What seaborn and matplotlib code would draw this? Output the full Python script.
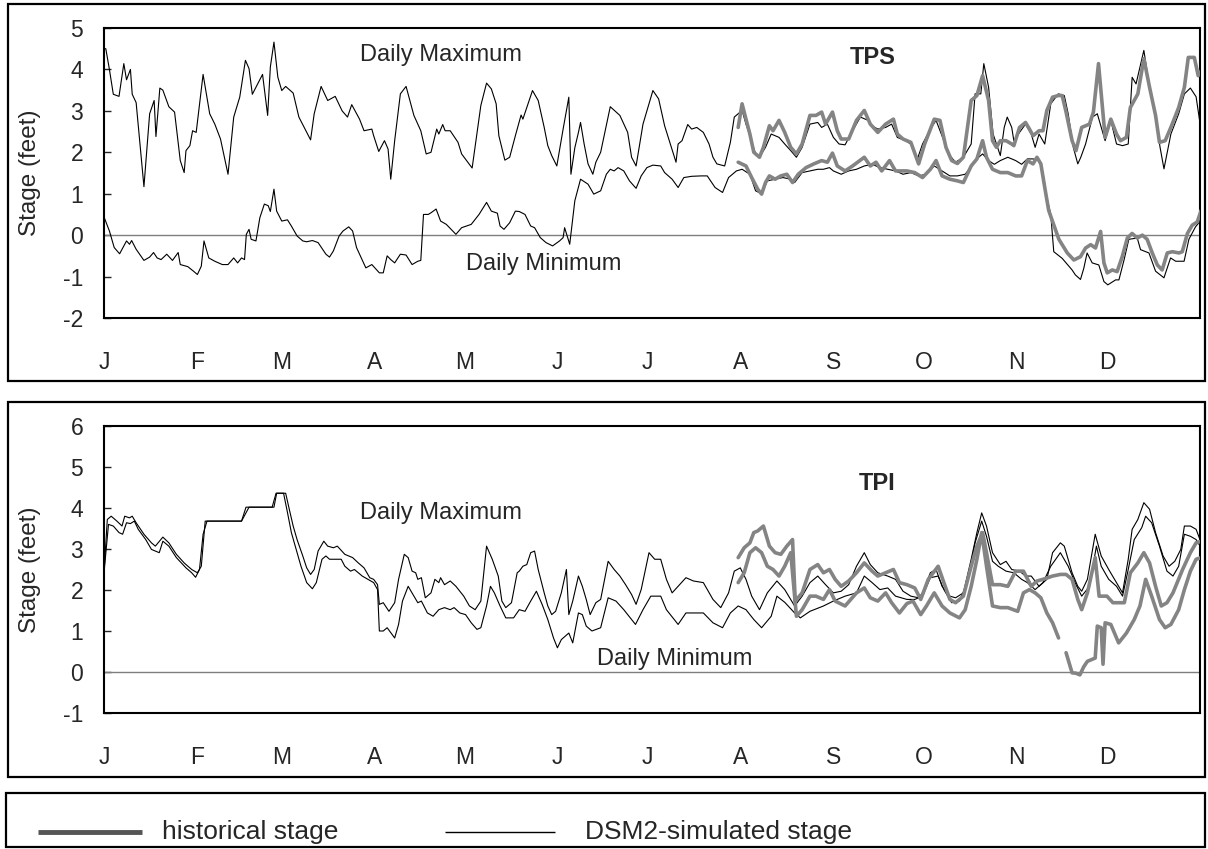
import matplotlib
matplotlib.use("Agg")
import matplotlib.pyplot as plt
import seaborn as sns
import pandas as pd
from matplotlib.patches import Rectangle
from matplotlib.lines import Line2D

# ---------------- data (day of year, stage in feet) ----------------
month_days = [0, 31, 59, 90, 120, 151, 181, 212, 243, 273, 304, 334]
month_labels = ["J", "F", "M", "A", "M", "J", "J", "A", "S", "O", "N", "D"]

tps_sim_max = [
    (0, 4.5), (0.6, 4.5), (1.8, 4.0), (3.1, 3.4), (4.3, 3.37), (5.0, 3.35), (6.6, 4.14), (7.5, 3.75),
    (8.8, 4.0), (9.4, 3.4), (10.7, 3.2), (13.3, 1.17), (15.2, 2.93), (16.7, 3.25), (17.3, 2.38),
    (18.6, 3.55), (19.6, 3.5), (21.6, 3.1), (23.5, 2.97), (25.4, 1.8), (26.7, 1.51), (27.3, 2.04),
    (28.6, 2.16), (29.5, 2.52), (30.7, 2.48), (33.0, 3.88), (35.2, 2.93), (36.9, 2.68), (38.8, 2.32),
    (41.3, 1.47), (43.2, 2.85), (45.2, 3.33), (47.1, 4.22), (48.3, 4.02), (49.4, 3.4), (52.8, 3.88),
    (54.5, 2.89), (55.4, 4.06), (56.6, 4.66), (57.9, 3.81), (59.2, 3.49), (60.5, 3.59), (63.0, 3.43),
    (64.9, 2.85), (68.8, 2.3), (70.0, 2.93), (72.3, 3.59), (74.5, 3.25), (77.0, 3.35), (79.3, 3.0),
    (81.1, 2.85), (82.5, 3.15), (85.1, 2.8), (86.6, 2.52), (89.2, 2.56), (89.8, 2.4), (91.5, 2.02),
    (93.4, 2.28), (94.6, 2.08), (95.5, 1.35), (96.8, 2.28), (98.7, 3.41), (100.6, 3.59), (103.2, 2.89),
    (105.5, 2.52), (107.3, 1.96), (108.9, 2.0), (110.8, 2.56), (111.5, 2.44), (112.8, 2.67),
    (113.6, 2.52), (115.3, 2.52), (117.9, 2.24), (119.1, 1.96), (122.6, 1.62), (125.5, 3.13),
    (127.4, 3.67), (129.0, 3.53), (130.6, 3.17), (131.5, 2.4), (133.5, 1.81), (135.1, 1.88),
    (137.0, 2.4), (138.9, 2.9), (139.5, 2.8), (140.8, 3.08), (142.7, 3.49), (144.6, 3.25),
    (146.6, 2.6), (147.8, 2.16), (149.1, 1.92), (150.8, 1.67), (152.9, 2.56), (154.8, 3.33),
    (155.5, 1.47), (156.8, 2.11), (158.0, 2.48), (158.7, 2.72), (159.9, 2.2), (161.2, 1.72),
    (162.8, 1.47), (163.8, 1.76), (165.4, 2.0), (168.6, 3.1), (171.8, 2.89), (174.4, 2.48),
    (175.7, 1.88), (177.2, 1.67), (179.5, 2.68), (182.8, 3.49), (184.7, 3.29), (186.7, 2.64),
    (188.6, 2.2), (190.5, 1.76), (191.2, 2.2), (192.5, 2.28), (194.4, 2.67), (195.7, 2.56),
    (197.4, 2.6), (199.6, 2.48), (201.5, 2.2), (202.8, 1.88), (204.1, 1.72), (206.7, 1.67),
    (208.6, 2.24), (209.9, 2.85), (212.5, 3.01), (213.8, 2.68), (215.1, 2.4), (217.0, 1.96),
    (218.3, 1.88), (220.3, 2.12), (222.2, 2.44), (224.8, 2.36), (226.7, 2.2), (228.7, 2.04),
    (230.6, 1.88), (232.5, 2.12), (235.1, 2.68), (237.7, 2.72), (239.0, 2.6), (240.9, 2.68),
    (242.9, 2.36), (244.8, 2.2), (246.8, 2.18), (249.3, 2.52), (251.9, 2.85), (254.5, 2.77),
    (255.8, 2.64), (257.7, 2.56), (260.3, 2.6), (262.3, 2.68), (264.2, 2.36), (266.8, 2.28),
    (268.7, 2.2), (270.7, 1.8), (272.6, 2.2), (275.2, 2.56), (277.1, 2.77), (279.7, 2.28),
    (281.7, 1.92), (283.6, 1.76), (286.2, 1.88), (288.8, 2.2), (290.1, 3.41), (292.0, 3.41),
    (293.0, 4.14), (294.6, 3.57), (296.1, 2.44), (298.5, 1.92), (299.8, 2.6), (300.8, 2.85),
    (302.3, 2.6), (303.0, 2.28), (304.9, 2.48), (306.9, 2.68), (308.8, 2.44), (310.1, 2.12),
    (311.4, 2.44), (313.3, 2.2), (315.3, 3.17), (317.8, 3.41), (319.8, 3.37), (321.1, 2.93),
    (322.8, 2.12), (324.3, 1.72), (325.3, 1.88), (326.9, 2.2), (329.2, 2.85), (330.8, 2.93),
    (333.4, 2.28), (335.3, 2.77), (337.2, 2.2), (339.2, 2.16), (341.1, 2.2), (342.4, 3.81),
    (343.7, 3.65), (346.3, 4.46), (348.2, 3.57), (350.2, 2.85), (351.7, 2.12), (353.0, 1.6),
    (355.3, 2.44), (357.9, 2.93), (359.8, 3.41), (361.8, 3.55), (363.7, 3.34), (365.0, 2.7),
]

tps_sim_min = [
    (0, 0.44), (1.8, 0.1), (3.4, -0.3), (5.2, -0.45), (7.5, -0.14), (8.5, -0.22), (9.2, -0.13),
    (10.7, -0.34), (13.3, -0.61), (15.2, -0.53), (16.5, -0.42), (17.7, -0.55), (19.0, -0.59),
    (20.9, -0.46), (22.8, -0.61), (24.7, -0.42), (25.4, -0.71), (27.9, -0.76), (29.8, -0.87),
    (31.1, -0.95), (32.4, -0.75), (33.3, -0.14), (34.9, -0.55), (36.9, -0.63), (39.4, -0.71),
    (41.3, -0.71), (43.2, -0.55), (44.5, -0.67), (45.8, -0.55), (46.8, -0.59), (47.4, 0.02),
    (48.3, 0.14), (49.0, -0.1), (50.6, -0.14), (51.9, 0.42), (53.4, 0.75), (54.7, 0.71), (55.4, 0.57),
    (56.6, 1.11), (57.5, 0.58), (59.2, 0.34), (61.1, 0.37), (62.4, 0.22), (64.3, -0.02), (66.2, -0.14),
    (67.5, -0.16), (69.4, -0.13), (71.3, -0.18), (73.9, -0.46), (75.1, -0.53), (76.4, -0.38),
    (78.3, -0.02), (79.6, 0.1), (81.5, 0.2), (82.8, 0.1), (84.1, -0.3), (87.2, -0.79), (89.2, -0.71),
    (91.7, -0.91), (93.0, -0.91), (94.3, -0.5), (95.5, -0.59), (96.8, -0.67), (98.7, -0.46),
    (100.6, -0.48), (102.6, -0.71), (104.5, -0.63), (105.5, -0.61), (106.4, 0.5), (108.0, 0.5),
    (108.9, 0.54), (110.6, 0.63), (112.1, 0.34), (114.0, 0.26), (117.2, 0.02), (119.1, 0.18),
    (122.3, 0.26), (124.9, 0.5), (127.4, 0.79), (129.0, 0.58), (131.0, 0.53), (131.9, 0.22),
    (133.2, 0.14), (135.1, 0.3), (137.0, 0.58), (138.3, 0.57), (140.2, 0.5), (142.1, 0.22),
    (143.4, 0.18), (145.3, -0.06), (147.2, -0.18), (149.4, -0.26), (151.7, -0.14), (152.9, -0.06),
    (153.4, 0.18), (155.1, -0.22), (156.8, 0.83), (158.7, 1.35), (160.4, 1.27), (161.2, 1.23),
    (163.1, 0.99), (165.4, 1.07), (167.3, 1.47), (168.6, 1.59), (169.9, 1.55), (171.2, 1.63),
    (173.1, 1.55), (175.0, 1.31), (177.2, 1.13), (178.9, 1.43), (180.8, 1.63), (182.8, 1.69),
    (185.4, 1.67), (186.7, 1.51), (189.2, 1.35), (191.2, 1.15), (193.1, 1.39), (195.7, 1.42),
    (198.9, 1.43), (200.9, 1.43), (203.5, 1.15), (206.0, 1.03), (208.0, 1.39), (210.6, 1.55),
    (212.5, 1.59), (215.1, 1.47), (217.0, 1.07), (219.0, 1.0), (220.9, 1.31), (223.5, 1.35),
    (226.1, 1.39), (228.7, 1.35), (230.0, 1.27), (232.5, 1.51), (235.1, 1.55), (237.7, 1.59),
    (239.6, 1.59), (241.6, 1.63), (242.9, 1.55), (245.5, 1.47), (248.0, 1.55), (250.6, 1.59),
    (253.2, 1.67), (255.8, 1.71), (258.4, 1.63), (261.0, 1.59), (263.6, 1.55), (266.1, 1.47),
    (268.7, 1.51), (271.3, 1.43), (273.9, 1.47), (276.5, 1.67), (279.1, 1.55), (281.7, 1.43),
    (284.2, 1.43), (286.8, 1.47), (289.4, 1.71), (291.3, 1.88), (292.6, 1.96), (294.6, 1.8),
    (296.5, 1.71), (298.5, 1.8), (301.0, 1.88), (303.6, 1.8), (305.6, 1.71), (307.5, 1.84),
    (309.4, 1.84), (311.4, 1.8), (312.7, 1.51), (314.0, 0.9), (315.3, 0.5), (316.3, -0.4),
    (319.1, -0.56), (322.4, -0.84), (323.5, -0.96), (325.2, -1.07), (326.3, -0.8), (327.4, -0.43),
    (329.1, -0.67), (331.3, -0.72), (333.0, -1.12), (334.3, -1.2), (336.9, -1.08), (338.0, -1.08),
    (339.7, -0.6), (341.3, -0.1), (344.1, -0.07), (345.2, -0.35), (348.0, -0.43), (350.2, -0.87),
    (353.0, -1.03), (355.2, -0.55), (356.9, -0.63), (359.7, -0.63), (361.3, -0.1), (363.5, 0.2),
    (365.2, 0.35),
]

tps_hist_max = [
    (211.2, 2.6), (212.5, 3.17), (213.8, 2.8), (215.1, 2.44), (216.4, 2.0), (218.3, 1.88),
    (219.6, 2.12), (221.6, 2.64), (222.8, 2.52), (224.8, 2.77), (226.7, 2.48), (228.7, 2.12),
    (230.6, 1.96), (232.5, 2.2), (235.1, 2.89), (237.1, 2.89), (239.0, 2.97), (240.3, 2.68),
    (242.6, 2.97), (244.2, 2.52), (245.5, 2.32), (248.0, 2.32), (250.6, 2.77), (253.2, 3.01),
    (255.2, 2.68), (257.7, 2.48), (260.3, 2.68), (262.9, 2.8), (264.2, 2.44), (266.1, 2.32),
    (268.7, 2.24), (271.3, 1.72), (273.3, 2.2), (276.5, 2.8), (278.4, 2.77), (280.4, 2.12),
    (282.3, 1.8), (284.2, 1.73), (286.2, 1.88), (288.8, 3.25), (290.7, 3.37), (292.6, 3.85),
    (294.6, 3.25), (295.9, 2.28), (297.2, 2.12), (298.5, 2.28), (300.4, 2.28), (302.3, 2.2),
    (303.0, 2.16), (304.9, 2.6), (306.9, 2.72), (308.2, 2.56), (309.4, 2.4), (311.4, 2.52),
    (312.7, 2.52), (314.0, 3.01), (315.9, 3.33), (317.8, 3.37), (319.1, 3.37), (320.4, 2.97),
    (322.4, 2.28), (323.7, 2.04), (325.6, 2.6), (328.2, 2.68), (329.5, 2.97), (331.2, 4.14),
    (332.7, 2.93), (333.4, 2.36), (335.3, 2.8), (337.2, 2.44), (338.5, 2.28), (340.5, 2.36),
    (341.8, 3.08), (344.3, 3.41), (346.3, 4.26), (348.2, 3.57), (350.2, 2.89), (351.5, 2.24),
    (353.4, 2.28), (355.3, 2.6), (357.9, 3.08), (359.8, 3.57), (361.1, 4.29), (363.1, 4.29),
    (364.4, 3.85), (365.4, 3.97),
]

tps_hist_min = [
    (211.2, 1.76), (213.8, 1.67), (215.7, 1.39), (217.7, 1.11), (219.0, 0.99), (220.3, 1.27),
    (221.6, 1.43), (223.5, 1.35), (225.4, 1.43), (227.4, 1.47), (229.3, 1.27), (231.2, 1.47),
    (233.8, 1.63), (236.4, 1.72), (239.0, 1.8), (240.9, 1.76), (242.6, 1.98), (244.2, 1.67),
    (246.8, 1.55), (249.3, 1.67), (253.2, 1.88), (255.2, 1.67), (257.1, 1.76), (259.0, 1.55),
    (261.6, 1.8), (263.6, 1.55), (267.4, 1.55), (270.0, 1.51), (272.6, 1.39), (275.2, 1.59),
    (277.1, 1.8), (279.1, 1.43), (281.7, 1.35), (284.2, 1.31), (286.2, 1.27), (288.8, 1.67),
    (290.7, 1.84), (292.6, 2.28), (293.9, 1.88), (295.9, 1.59), (298.5, 1.51), (301.0, 1.51),
    (303.6, 1.43), (305.6, 1.43), (307.5, 1.8), (309.4, 1.72), (310.7, 1.88), (312.0, 1.72),
    (313.3, 1.15), (314.6, 0.6), (315.8, 0.35), (318.0, -0.1), (320.8, -0.43), (323.0, -0.6),
    (325.2, -0.52), (326.9, -0.31), (328.6, -0.23), (330.2, -0.31), (331.9, 0.09), (333.0, -0.67),
    (334.1, -0.91), (335.8, -0.84), (337.4, -0.88), (339.1, -0.52), (340.8, -0.07), (342.4, 0.04),
    (344.1, -0.07), (345.8, 0.0), (347.4, -0.1), (349.1, -0.43), (350.8, -0.72), (352.4, -0.84),
    (354.1, -0.43), (355.8, -0.4), (358.0, -0.43), (359.1, -0.4), (360.8, 0.04), (362.4, 0.24),
    (364.1, 0.32), (365.4, 0.6),
]

tpi_sim_max = [
    (0, 2.42), (1.1, 3.72), (2.4, 3.8), (4.3, 3.68), (6.0, 3.56), (6.9, 3.8), (8.5, 3.76), (9.4, 3.8),
    (10.7, 3.64), (13.3, 3.36), (15.8, 3.15), (17.1, 3.07), (19.6, 3.29), (21.6, 3.15), (24.1, 2.87),
    (26.7, 2.66), (29.2, 2.5), (31.1, 2.42), (32.4, 2.58), (33.7, 3.68), (45.8, 3.68), (47.3, 4.02),
    (56.0, 4.02), (57.3, 4.36), (60.5, 4.36), (61.7, 3.97), (63.0, 3.56), (64.3, 3.23), (66.2, 2.83),
    (67.5, 2.54), (68.8, 2.38), (70.0, 2.5), (71.3, 2.95), (73.2, 3.19), (74.5, 3.07), (76.4, 3.03),
    (77.7, 3.07), (80.2, 2.87), (81.5, 2.83), (82.8, 2.79), (84.7, 2.66), (86.6, 2.54), (88.5, 2.3),
    (89.8, 2.26), (91.1, 2.13), (91.7, 1.65), (93.0, 1.69), (94.9, 1.48), (96.8, 1.69), (98.1, 2.26),
    (100.0, 2.87), (101.3, 2.79), (102.6, 2.46), (103.8, 2.42), (104.5, 2.26), (105.7, 2.3),
    (107.0, 1.81), (108.9, 1.93), (110.2, 2.26), (111.5, 2.18), (112.1, 2.3), (113.4, 2.13),
    (115.3, 2.22), (117.2, 2.09), (119.8, 1.85), (121.7, 1.61), (123.6, 1.52), (125.5, 1.73),
    (127.4, 3.07), (129.3, 2.75), (131.3, 2.34), (132.5, 1.73), (133.8, 1.57), (135.7, 1.69),
    (137.6, 2.42), (138.3, 2.46), (139.5, 2.58), (140.8, 2.62), (142.1, 2.91), (143.4, 2.95),
    (144.6, 2.5), (146.6, 1.93), (147.8, 1.61), (149.1, 1.4), (150.4, 1.48), (152.3, 1.93),
    (154.0, 2.5), (154.8, 1.4), (156.1, 1.73), (158.0, 2.34), (159.3, 2.09), (160.6, 1.77),
    (161.9, 1.4), (163.8, 1.69), (165.4, 1.77), (167.9, 2.7), (169.9, 2.5), (171.8, 2.34),
    (173.7, 2.13), (175.7, 1.89), (177.2, 1.65), (178.9, 2.01), (181.5, 2.91), (183.4, 2.75),
    (185.4, 2.75), (187.3, 2.26), (189.2, 1.93), (191.2, 2.09), (193.8, 2.3), (196.3, 2.22),
    (199.6, 2.18), (202.8, 1.77), (205.4, 1.57), (208.0, 1.93), (209.9, 2.46), (211.9, 2.54),
    (213.8, 2.26), (215.7, 1.85), (218.3, 1.52), (220.9, 1.93), (224.1, 2.22), (226.7, 2.01),
    (230.0, 1.61), (232.5, 1.85), (235.1, 2.18), (237.7, 2.34), (240.3, 2.13), (242.9, 1.93),
    (245.5, 1.97), (248.0, 2.13), (250.6, 2.58), (253.2, 2.91), (255.2, 2.62), (257.7, 2.42),
    (261.0, 2.34), (263.6, 2.26), (266.1, 1.97), (268.7, 1.85), (271.3, 1.81), (272.6, 1.93),
    (275.2, 2.42), (277.1, 2.5), (279.1, 2.09), (281.7, 1.85), (283.6, 1.81), (286.2, 1.93),
    (288.8, 2.75), (290.7, 3.4), (292.3, 3.88), (293.9, 3.56), (295.9, 2.91), (298.5, 2.62),
    (300.4, 2.7), (302.3, 2.5), (304.9, 2.46), (306.9, 2.34), (308.8, 2.34), (311.4, 2.09),
    (314.0, 2.26), (315.9, 2.91), (318.5, 3.15), (319.8, 3.07), (322.4, 2.42), (324.3, 2.09),
    (325.6, 1.97), (327.5, 2.26), (330.1, 3.36), (332.1, 2.83), (334.6, 2.5), (337.2, 2.18),
    (339.2, 1.93), (341.1, 2.75), (342.4, 3.48), (344.3, 3.72), (346.3, 4.13), (348.2, 3.97),
    (350.2, 3.4), (352.7, 2.83), (354.7, 2.58), (356.6, 2.7), (358.6, 2.99), (359.8, 3.56),
    (361.8, 3.56), (363.7, 3.48), (365.4, 3.15),
]

tpi_sim_min = [
    (0, 2.42), (1.5, 3.6), (3.1, 3.56), (5.0, 3.4), (6.2, 3.36), (7.5, 3.64), (8.8, 3.62), (10.1, 3.68),
    (11.4, 3.48), (13.9, 3.23), (15.8, 2.99), (18.4, 2.91), (19.6, 3.19), (21.6, 3.07), (24.1, 2.79),
    (27.3, 2.54), (29.2, 2.42), (30.5, 2.31), (31.8, 2.5), (33.0, 3.36), (34.3, 3.68), (45.8, 3.68),
    (48.3, 4.02), (56.6, 4.02), (57.5, 4.36), (59.8, 4.36), (61.1, 3.89), (62.4, 3.4), (64.3, 2.91),
    (65.6, 2.58), (67.5, 2.18), (69.4, 2.03), (70.7, 2.18), (72.6, 2.75), (73.9, 2.83), (75.1, 2.75),
    (79.0, 2.75), (80.2, 2.58), (82.1, 2.46), (83.4, 2.5), (86.0, 2.34), (87.9, 2.26), (89.8, 2.18),
    (91.1, 2.01), (91.7, 1.0), (93.0, 1.0), (94.3, 1.08), (95.5, 0.96), (96.8, 0.83), (98.1, 1.16),
    (99.4, 1.73), (101.3, 2.09), (103.2, 1.85), (104.5, 1.69), (105.7, 1.73), (107.7, 1.44),
    (109.6, 1.36), (111.5, 1.52), (113.4, 1.57), (115.3, 1.52), (116.6, 1.57), (118.5, 1.44),
    (120.4, 1.4), (122.3, 1.2), (124.2, 1.04), (125.5, 1.08), (127.4, 1.61), (128.7, 2.09),
    (130.0, 1.93), (131.9, 1.61), (133.8, 1.32), (136.4, 1.32), (138.3, 1.52), (140.2, 1.48),
    (142.1, 1.73), (144.0, 1.97), (145.9, 1.65), (147.8, 1.28), (149.7, 0.83), (151.0, 0.59),
    (152.3, 0.79), (154.2, 0.91), (154.8, 0.95), (156.1, 0.71), (158.0, 1.44), (159.3, 1.4),
    (160.6, 1.12), (162.5, 1.0), (165.4, 1.08), (167.9, 1.81), (170.5, 1.73), (173.1, 1.52),
    (177.0, 1.16), (179.5, 1.52), (182.1, 1.85), (185.4, 1.85), (187.3, 1.52), (191.2, 1.16),
    (193.8, 1.44), (199.6, 1.44), (202.8, 1.2), (206.0, 1.08), (208.6, 1.44), (211.2, 1.61),
    (213.8, 1.52), (216.4, 1.28), (219.0, 1.08), (222.2, 1.36), (224.1, 1.85), (226.7, 1.7),
    (230.0, 1.44), (231.9, 1.32), (235.1, 1.48), (239.6, 1.61), (242.9, 1.73), (246.8, 1.85),
    (250.6, 1.93), (253.2, 2.34), (255.8, 2.18), (258.4, 2.01), (261.0, 2.05), (263.6, 1.85),
    (267.4, 1.77), (270.0, 1.77), (272.6, 1.85), (275.2, 2.3), (277.8, 2.34), (279.7, 2.01),
    (282.3, 1.69), (284.9, 1.73), (287.5, 2.18), (290.1, 3.15), (292.3, 3.68), (293.9, 3.31),
    (295.9, 2.7), (297.8, 2.58), (300.4, 2.46), (303.0, 2.42), (305.6, 2.26), (307.5, 2.18),
    (310.1, 2.01), (312.7, 2.18), (315.3, 2.58), (318.5, 2.91), (321.1, 2.58), (323.7, 2.13),
    (325.6, 1.85), (328.2, 2.09), (330.5, 3.07), (332.1, 2.58), (334.6, 2.26), (337.2, 2.09),
    (339.2, 1.85), (341.1, 2.5), (343.1, 3.23), (345.6, 3.52), (346.9, 3.8), (348.9, 3.64),
    (351.5, 3.07), (354.0, 2.46), (356.0, 2.34), (357.9, 2.58), (359.8, 3.36), (361.8, 3.31),
    (363.7, 3.23), (365.4, 3.03),
]

tpi_hist_max = [
    (211.2, 2.79), (213.2, 3.03), (215.1, 3.15), (216.4, 3.4), (217.7, 3.44), (219.6, 3.56),
    (221.6, 3.07), (223.5, 2.91), (225.4, 2.87), (227.4, 3.07), (229.3, 3.23), (230.2, 1.73),
    (232.5, 1.93), (235.1, 2.5), (237.7, 2.62), (239.6, 2.42), (241.6, 2.5), (243.5, 2.26),
    (245.5, 2.09), (248.0, 2.22), (250.6, 2.42), (253.2, 2.66), (255.8, 2.46), (257.7, 2.34),
    (260.3, 2.42), (262.9, 2.5), (264.9, 2.18), (267.4, 2.13), (270.0, 2.05), (272.0, 1.77),
    (274.5, 2.26), (277.8, 2.58), (279.7, 2.18), (281.7, 1.77), (283.6, 1.69), (286.2, 1.85),
    (288.8, 2.58), (290.7, 3.07), (292.6, 3.4), (293.9, 2.91), (295.9, 2.13), (298.5, 2.13),
    (301.0, 2.09), (303.6, 2.46), (306.2, 2.46), (308.8, 2.09), (310.7, 2.22), (312.7, 2.26),
    (315.9, 2.34), (318.5, 2.38), (320.4, 2.38), (322.4, 2.26), (324.3, 1.77), (325.6, 1.52),
    (327.5, 1.93), (330.1, 2.79), (331.4, 1.85), (334.0, 1.85), (336.0, 1.69), (339.8, 1.69),
    (341.8, 2.42), (344.3, 2.66), (346.3, 2.91), (348.2, 2.66), (350.2, 2.09), (352.1, 1.61),
    (354.0, 1.69), (356.0, 1.93), (359.2, 2.5), (361.8, 2.91), (363.7, 3.15), (365.4, 3.19),
]

# historical minimum at TPI has a short data gap in mid-November
tpi_hist_min_a = [
    (211.2, 2.18), (213.2, 2.42), (215.1, 2.91), (217.0, 3.03), (219.0, 2.91), (220.9, 2.58),
    (222.8, 2.5), (224.8, 2.34), (226.7, 2.58), (228.7, 2.91), (230.6, 1.36), (232.5, 1.52),
    (235.1, 1.85), (237.1, 1.85), (239.6, 1.77), (241.6, 2.01), (243.5, 1.73), (246.8, 1.61),
    (250.6, 1.93), (253.2, 2.05), (255.2, 1.81), (257.7, 1.73), (260.3, 1.93), (262.3, 1.69),
    (264.9, 1.44), (267.4, 1.67), (269.4, 1.73), (272.0, 1.4), (273.9, 1.61), (276.5, 1.93),
    (279.1, 1.61), (281.7, 1.44), (284.9, 1.32), (286.8, 1.52), (288.8, 2.09), (290.7, 2.75),
    (292.3, 3.4), (293.9, 2.58), (295.9, 1.61), (298.5, 1.57), (301.0, 1.57), (304.3, 1.48),
    (306.2, 1.93), (308.2, 2.01), (310.1, 1.93), (312.0, 1.81), (314.0, 1.44), (315.9, 1.2),
    (317.9, 0.83),
]
tpi_hist_min_b = [
    (320.4, 0.47), (322.4, -0.02), (323.7, -0.03), (325.0, -0.07), (326.3, 0.13), (327.5, 0.26),
    (328.8, 0.3), (330.1, 0.34), (330.8, 1.12), (332.1, 1.08), (332.7, 0.19), (333.4, 1.2),
    (335.3, 1.16), (337.9, 0.71), (340.5, 0.95), (343.1, 1.28), (345.0, 1.61), (346.9, 2.26),
    (348.9, 1.85), (351.5, 1.28), (353.4, 1.08), (355.3, 1.16), (357.9, 1.52), (359.8, 2.01),
    (361.8, 2.46), (363.7, 2.75), (365.4, 2.79),
]

# ---------------- styling ----------------
sns.set_style("white")
plt.rcParams["font.family"] = ["Liberation Sans", "DejaVu Sans"]
plt.rcParams["axes.linewidth"] = 1.5

HIST_COLOR = "#848484"
SIM_COLOR = "black"
W, H = 1208, 849

fig = plt.figure(figsize=(W / 100, H / 100), dpi=100)
fig.patch.set_facecolor("white")


def rect(l, t, r, b):
    return [l / W, 1 - b / H, (r - l) / W, (b - t) / H]


def frame(l, t, r, b):
    fig.add_artist(Rectangle((l / W, 1 - b / H), (r - l) / W, (b - t) / H,
                             transform=fig.transFigure, fill=False,
                             edgecolor="black", linewidth=1.6))


frame(8, 4, 1205, 381)
frame(8, 402, 1205, 777)
frame(6, 793, 1205, 847)

ax1 = fig.add_axes(rect(104, 28, 1200, 318))
ax2 = fig.add_axes(rect(104, 426, 1200, 713))


def draw(ax, pts, color, lw, z):
    df = pd.DataFrame(pts, columns=["day", "stage"])
    sns.lineplot(data=df, x="day", y="stage", ax=ax, color=color, linewidth=lw,
                 estimator=None, sort=False, legend=False, zorder=z)


def style(ax, ylo, yhi):
    ax.set_xlim(0, 365)
    ax.set_ylim(ylo, yhi)
    ax.set_yticks(range(ylo, yhi + 1))
    ax.set_yticklabels([str(v) for v in range(ylo, yhi + 1)])
    ax.set_xticks(month_days)
    ax.set_xticklabels(month_labels)
    ax.tick_params(axis="x", length=0, pad=24, labelsize=16.5)
    ax.tick_params(axis="y", direction="in", length=5, width=1, pad=15, labelsize=16.5,
                   left=True, right=False)
    ax.set_xlabel("")
    ax.set_ylabel("Stage (feet)", fontsize=17.5)
    ax.yaxis.label.set_verticalalignment("center")
    ax.yaxis.set_label_coords((30 - 104) / 1096, 0.5)
    for s in ax.spines.values():
        s.set_color("black")
        s.set_linewidth(1.5)
    ax.axhline(0, color="#7f7f7f", linewidth=1.0, zorder=1)
    ax.set_facecolor("white")


# top: TPS
draw(ax1, tps_sim_max, SIM_COLOR, 0.8, 2)
draw(ax1, tps_sim_min, SIM_COLOR, 0.8, 2)
draw(ax1, tps_hist_max, HIST_COLOR, 2.6, 3)
draw(ax1, tps_hist_min, HIST_COLOR, 2.6, 3)
style(ax1, -2, 5)
ax1.text(0.3075, 0.907, "Daily Maximum", transform=ax1.transAxes, ha="center", va="center", fontsize=17)
ax1.text(0.7017, 0.8966, "TPS", transform=ax1.transAxes, ha="center", va="center",
         fontsize=17, fontweight="bold")
ax1.text(0.4015, 0.186, "Daily Minimum", transform=ax1.transAxes, ha="center", va="center", fontsize=17)

# bottom: TPI
draw(ax2, tpi_sim_max, SIM_COLOR, 0.8, 2)
draw(ax2, tpi_sim_min, SIM_COLOR, 0.8, 2)
draw(ax2, tpi_hist_max, HIST_COLOR, 2.6, 3)
draw(ax2, tpi_hist_min_a, HIST_COLOR, 2.6, 3)
draw(ax2, tpi_hist_min_b, HIST_COLOR, 2.6, 3)
style(ax2, -1, 6)
ax2.text(0.3075, 0.697, "Daily Maximum", transform=ax2.transAxes, ha="center", va="center", fontsize=17)
ax2.text(0.705, 0.798, "TPI", transform=ax2.transAxes, ha="center", va="center",
         fontsize=17, fontweight="bold")
ax2.text(0.521, 0.188, "Daily Minimum", transform=ax2.transAxes, ha="center", va="center", fontsize=17)

# legend (drawn in figure coordinates)
ly = 1 - 832 / H
fig.add_artist(Line2D([38 / W, 142 / W], [ly, ly], transform=fig.transFigure,
                      color="#555555", linewidth=3.5, solid_capstyle="butt"))
fig.text(162 / W, ly, "historical stage", ha="left", va="center", fontsize=19)
fig.add_artist(Line2D([445 / W, 555 / W], [ly, ly], transform=fig.transFigure,
                      color="black", linewidth=1.0, solid_capstyle="butt"))
fig.text(585 / W, ly, "DSM2-simulated stage", ha="left", va="center", fontsize=19)

fig.savefig("out.png", dpi=100, facecolor="white")
